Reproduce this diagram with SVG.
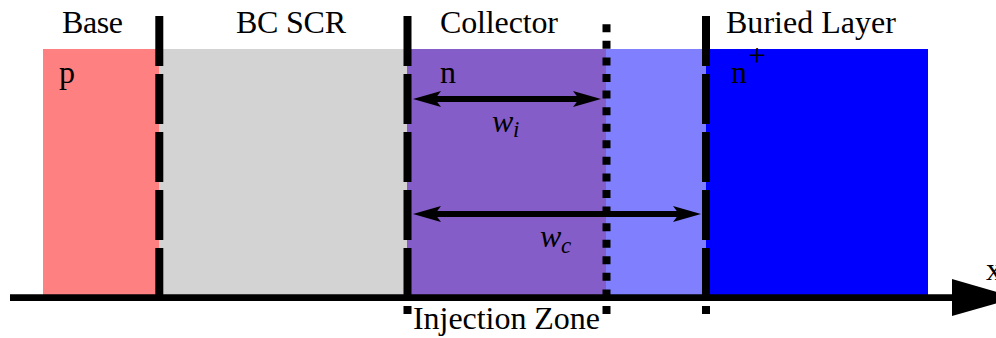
<svg xmlns="http://www.w3.org/2000/svg" width="996" height="338" viewBox="0 0 996 338">
<style>
text{font-family:'Liberation Serif','Times New Roman',serif;font-size:32px;fill:#000}
.it{font-style:italic}
.sub{font-size:23px;font-style:italic}
.dash{stroke:#000;stroke-width:8;stroke-dasharray:50 8;fill:none}
.dot{stroke:#000;stroke-width:8;stroke-dasharray:8 8.57;fill:none}
.arr{stroke:#000;stroke-width:6;fill:none}
.head{fill:#000}
</style>
<rect width="996" height="338" fill="#fff"/>
<g id="base">
<rect x="43" y="49" width="116" height="248" fill="#FF8080"/>
<text x="62" y="33" textLength="61">Base</text>
<text x="59" y="83">p</text>
</g>
<g id="bc-scr">
<rect x="159" y="49" width="248" height="248" fill="#D3D3D3"/>
<text x="236" y="33" textLength="110">BC SCR</text>
</g>
<g id="collector">
<rect x="407" y="49" width="199" height="248" fill="#855DC8"/>
<rect x="606" y="49" width="100" height="248" fill="#8080FF"/>
<text x="440" y="33" textLength="118">Collector</text>
<text x="440" y="83">n</text>
</g>
<g id="buried-layer">
<rect x="706" y="49" width="222" height="248" fill="#0000FF"/>
<text x="726" y="33" textLength="170">Buried Layer</text>
<text x="731" y="83">n</text>
<text x="748" y="66">+</text>
</g>
<g id="boundaries">
<line class="dash" x1="159.3" y1="16" x2="159.3" y2="298"/>
<line class="dash" x1="407.5" y1="16" x2="407.5" y2="314"/>
<line class="dash" x1="706" y1="16" x2="706" y2="314"/>
<line class="dot" x1="606.5" y1="24.3" x2="606.5" y2="315"/>
</g>
<g id="connectors">
<line class="arr" x1="432" y1="99" x2="582" y2="99"/>
<polygon class="head" points="413,99 441,91 435,99 441,107"/>
<polygon class="head" points="601,99 573,91 579,99 573,107"/>
<line class="arr" x1="432" y1="214" x2="682" y2="214"/>
<polygon class="head" points="413,214 441,206 435,214 441,222"/>
<polygon class="head" points="701,214 673,206 679,214 673,222"/>
<line x1="10" y1="297.7" x2="960" y2="297.7" stroke="#000" stroke-width="6.7"/>
<polygon class="head" points="952,279 1016,297.7 952,316"/>
</g>
<g id="labels">
<text class="it" x="492" y="132">w</text>
<text class="sub" x="513" y="137">i</text>
<text class="it" x="540" y="247">w</text>
<text class="sub" x="561" y="253">c</text>
<text x="413" y="329" textLength="187">Injection Zone</text>
<text x="986" y="280">x</text>
</g>
</svg>
